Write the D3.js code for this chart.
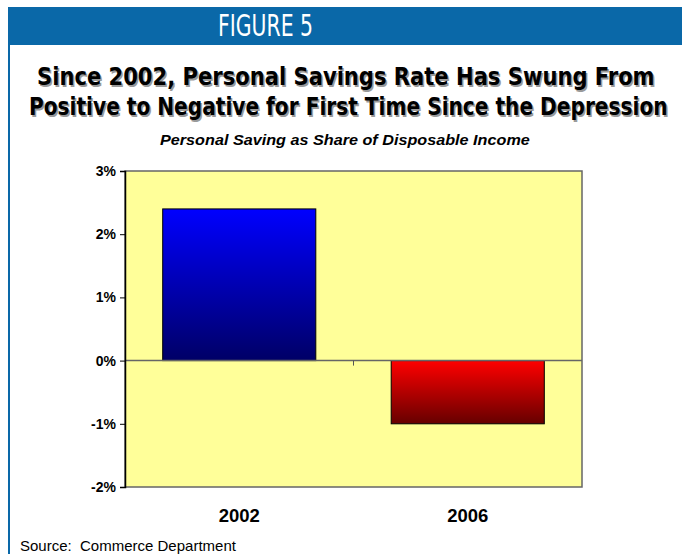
<!DOCTYPE html>
<html>
<head>
<meta charset="utf-8">
<script src="https://cdn.jsdelivr.net/npm/d3@7"></script>
<style>
  body { margin: 0; background: #fff; }
  svg { display: block; }
</style>
</head>
<body>
<script>
// chart data
const years = ['2002', '2006'];
const savingRate = [2.4, -1.0];
const yTicks = [3, 2, 1, 0, -1, -2];

const W = 682, H = 554;
const svg = d3.select('body').append('svg')
  .attr('width', W)
  .attr('height', H);

const condensed = '"DejaVu Sans Condensed", "DejaVu Sans", sans-serif';
const arial = '"Liberation Sans", Arial, sans-serif';

// squeeze a text horizontally so it spans `len` px from x0
function fitText(sel, x0, y0, len) {
  const w = sel.node().getComputedTextLength();
  sel.attr('x', 0).attr('y', 0)
    .attr('transform', `translate(${x0},${y0}) scale(${len / w},1)`);
}

// header band + left rule
svg.append('rect').attr('x', 8).attr('y', 7).attr('width', W - 8).attr('height', 38).attr('fill', '#0a68a8');
svg.append('rect').attr('x', 8).attr('y', 7).attr('width', 2).attr('height', H - 7).attr('fill', '#0a68a8');

const fig = svg.append('text')
  .attr('fill', '#fff')
  .style('font-family', condensed)
  .style('font-size', '30px')
  .text('FIGURE 5');
fitText(fig, 218, 36, 95);

// title with drop shadow
const titleLines = [
  ['Since 2002, Personal Savings Rate Has Swung From', 37, 618],
  ['Positive to Negative for First Time Since the Depression', 29, 639]];
titleLines.forEach(([t, x0, len], i) => {
  [['#9a9a9a', 1.5], ['#000', 0]].forEach(([c, off]) => {
    const tt = svg.append('text')
      .attr('fill', c)
      .style('font-family', condensed)
      .style('font-weight', 'bold')
      .style('font-size', '25px')
      .text(t);
    fitText(tt, x0 + off, 85 + i * 30 + off, len);
  });
});

const sub = svg.append('text')
  .style('font-family', arial)
  .style('font-weight', 'bold')
  .style('font-style', 'italic')
  .style('font-size', '15.5px')
  .text('Personal Saving as Share of Disposable Income');
fitText(sub, 160, 145, 370);

// plot area
const pLeft = 125, pRight = 582, pTop = 171, pBottom = 487;

const x = d3.scaleBand()
  .domain(years)
  .range([pLeft, pRight])
  .paddingInner(0.33)
  .paddingOuter(0.165);

const y = d3.scaleLinear()
  .domain([-2, 3])
  .range([pBottom, pTop]);

const defs = svg.append('defs');
const grads = [['gBlue', '#0000ff', '#000066'], ['gRed', '#ff0000', '#660000']];
grads.forEach(([id, c1, c2]) => {
  const g = defs.append('linearGradient').attr('id', id)
    .attr('x1', 0).attr('y1', 0).attr('x2', 0).attr('y2', 1);
  g.append('stop').attr('offset', '0%').attr('stop-color', c1);
  g.append('stop').attr('offset', '100%').attr('stop-color', c2);
});

svg.append('rect')
  .attr('x', pLeft).attr('y', pTop)
  .attr('width', pRight - pLeft).attr('height', pBottom - pTop)
  .attr('fill', '#ffff99')
  .attr('stroke', '#666').attr('stroke-width', 1.5);

// bars
svg.selectAll('.bar')
  .data(years)
  .enter().append('rect')
  .attr('class', 'bar')
  .attr('x', d => x(d))
  .attr('width', x.bandwidth())
  .attr('y', (d, i) => y(Math.max(0, savingRate[i])))
  .attr('height', (d, i) => Math.abs(y(savingRate[i]) - y(0)))
  .attr('fill', (d, i) => savingRate[i] >= 0 ? 'url(#gBlue)' : 'url(#gRed)')
  .attr('stroke', '#000').attr('stroke-width', 1);

// zero line with category divider tick
const divX = x('2006') - x.step() * x.paddingInner() / 2;
svg.append('line')
  .attr('x1', pLeft).attr('x2', pRight)
  .attr('y1', y(0)).attr('y2', y(0))
  .attr('stroke', '#666').attr('stroke-width', 1.5);
svg.append('line')
  .attr('x1', divX).attr('x2', divX)
  .attr('y1', y(0)).attr('y2', y(0) + 5)
  .attr('stroke', '#555').attr('stroke-width', 1);

// y axis
const yAxis = svg.append('g')
  .attr('transform', `translate(${pLeft},0)`)
  .call(d3.axisLeft(y).tickValues(yTicks).tickSize(5).tickFormat(d => d + '%'));
yAxis.select('.domain').attr('stroke', '#000').attr('stroke-width', 1.5);
yAxis.selectAll('.tick line').attr('stroke', '#000');
yAxis.selectAll('text')
  .attr('x', -9)
  .style('font-family', arial)
  .style('font-weight', 'bold')
  .style('font-size', '14px')
  .attr('fill', '#000');

// x labels
svg.selectAll('.xlab')
  .data(years)
  .enter().append('text')
  .attr('class', 'xlab')
  .attr('x', d => x(d) + x.bandwidth() / 2)
  .attr('y', 522)
  .attr('text-anchor', 'middle')
  .style('font-family', arial)
  .style('font-weight', 'bold')
  .style('font-size', '18.5px')
  .text(d => d);

svg.append('text')
  .attr('x', 20).attr('y', 551)
  .style('font-family', arial)
  .style('font-size', '15px')
  .style('white-space', 'pre')
  .text('Source:  Commerce Department');
</script>
</body>
</html>
